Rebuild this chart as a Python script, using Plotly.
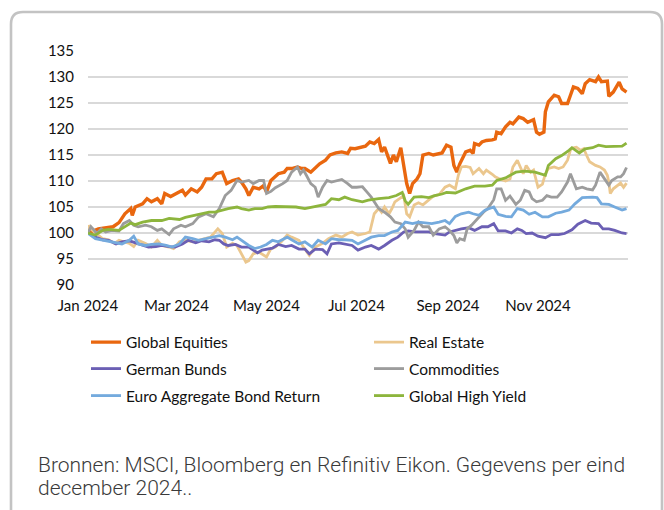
import pandas as pd
import plotly.graph_objects as go

# ---------------- data (day-of-year offsets from 2024-01-01, index level) ----------------
series_names = ["Global Equities", "Real Estate", "German Bunds",
                "Commodities", "Euro Aggregate Bond Return", "Global High Yield"]

eq_day = [0, 7, 17, 21, 25, 29, 30, 32, 37, 40, 43, 47, 50, 52, 56, 60, 64, 66, 70, 74, 77, 80, 84, 87, 91,
          94, 98, 102, 104, 107, 109, 112, 116, 119, 121, 124, 127, 129, 133, 135, 138, 142, 145, 147, 151,
          154, 157, 161, 164, 168, 172, 176, 178, 181, 185, 188, 191, 194, 197, 199, 201, 205, 207, 209, 212,
          214, 216, 218, 220, 223, 225, 227, 231, 234, 238, 240, 243, 246, 248, 250, 252, 256, 259, 261, 262,
          265, 267, 270, 274, 276, 277, 280, 283, 286, 288, 292, 295, 298, 302, 304, 306, 309, 310, 312, 316,
          319, 321, 325, 327, 329, 332, 335, 337, 340, 344, 346, 348, 352, 353, 356, 360, 362, 365]
eq_val = [100, 100.8, 101.2, 102, 103.7, 104.7, 103.4, 105, 105.6, 106.6, 106.0, 106.6, 105.6, 107.6, 107.0,
          107.6, 108.2, 107.3, 108.5, 107.9, 108.8, 110.4, 110.4, 111.4, 111.7, 109.5, 110.1, 110.4, 109.8,
          108.5, 107.2, 108.8, 108.5, 109.1, 107.9, 110.1, 110.8, 111.4, 111.7, 112.4, 112.4, 112.7, 112.4,
          112.4, 111.7, 112.4, 113.3, 114, 115, 115.4, 115.6, 115.3, 116.3, 116.2, 116.5, 116.7, 117.5, 117.2,
          118, 115.6, 116.5, 113.4, 115, 113.7, 116.4, 113.3, 109.5, 107.6, 109.5, 110.4, 111.4, 115, 115.3,
          115, 115.3, 115.4, 116.9, 116.5, 113, 111.7, 113.3, 115.6, 115.9, 115.3, 117.2, 116.9, 117.5, 117.8,
          117.9, 118.1, 119.4, 119.1, 120.4, 121.3, 121, 122.3, 122, 121.3, 121.8, 119.4, 119, 119.4, 123.3,
          125.2, 126.5, 126.2, 124.9, 124.9, 126.5, 128.1, 127.8, 126.8, 128.7, 129.5, 129.1, 130, 129.1,
          129.2, 126.3, 127.1, 129, 127.7, 127.1]

re_day = [0, 1, 3, 6, 10, 14, 18, 21, 24, 28, 31, 34, 39, 43, 47, 50, 55, 58, 62, 66, 71, 75, 78, 83, 88,
          91, 94, 98, 101, 104, 107, 109, 112, 116, 118, 121, 124, 127, 131, 135, 138, 143, 146, 150, 154,
          159, 163, 168, 172, 176, 179, 183, 188, 191, 194, 197, 199, 201, 204, 206, 208, 212, 214, 216, 218,
          221, 224, 227, 231, 234, 238, 242, 245, 249, 251, 253, 256, 259, 261, 265, 268, 270, 274, 276, 279,
          283, 286, 288, 291, 293, 295, 297, 300, 302, 304, 305, 308, 310, 312, 316, 319, 322, 325, 327, 329,
          331, 334, 336, 338, 340, 344, 347, 350, 352, 353, 354, 356, 359, 361, 363, 365]
re_val = [100, 101.5, 100.5, 99.8, 98.9, 98.7, 98, 98.6, 98.3, 98, 97.4, 98.6, 98, 97.3, 98.6, 97.6, 97.3,
          97, 98.3, 98.6, 98.3, 98.6, 98.9, 99.2, 100.8, 99.9, 97.3, 98, 97.6, 96, 94.4, 94.7, 96, 96.3, 96,
          95.4, 97, 97.3, 98.3, 99.6, 99.2, 98.6, 97.3, 95.7, 97.3, 98, 98.9, 99.6, 99.2, 99.9, 100.2, 99.6,
          99.9, 100.2, 103.7, 104.7, 104, 105, 103.7, 104.7, 106, 106.9, 107.2, 103.7, 103.1, 105.4, 105.8,
          105.4, 106.4, 107.1, 107.4, 108.8, 109.2, 108.5, 111.1, 112.7, 112.8, 112.6, 111.4, 112.4, 111.4,
          112.1, 111.3, 110.8, 110.4, 110, 110.4, 112.7, 114, 112.7, 111.4, 113, 111.7, 112.1, 109.8, 108.8,
          109.4, 111.4, 112.4, 112.7, 112.4, 112.7, 114, 116, 116.4, 116.5, 115.9, 116.2, 114.9, 113.7, 113,
          112.7, 112.1, 111.1, 109.8, 107.6, 108.5, 109.2, 109.6, 108.8, 109.6]

bund_day = [0, 5, 10, 14, 19, 23, 28, 32, 37, 41, 46, 50, 55, 59, 64, 68, 73, 77, 82, 86, 89, 92, 95, 100,
            104, 109, 112, 115, 118, 122, 125, 129, 134, 138, 143, 147, 150, 154, 159, 162, 165, 170, 174,
            179, 183, 188, 192, 197, 201, 206, 210, 214, 217, 222, 226, 231, 235, 240, 242, 245, 249, 253,
            258, 262, 267, 271, 275, 278, 283, 287, 291, 294, 297, 301, 305, 310, 314, 319, 323, 328, 332,
            337, 341, 346, 349, 353, 357, 362, 365]
bund_val = [100, 99.2, 98.7, 98.6, 97.9, 98.3, 98.5, 98.1, 97.6, 97.3, 97.4, 97.6, 97.4, 97.3, 97.9, 98.6,
            98.1, 98.5, 98.3, 98.7, 98.6, 97.9, 97.6, 97.8, 97.3, 97.3, 96.7, 96.2, 96.7, 97, 97.1, 97.8,
            97.4, 97.6, 96.9, 96.9, 96, 96.9, 96.8, 96, 97.9, 98.1, 97.9, 97.6, 96.7, 97.3, 97.6, 96.9, 97.6,
            98.6, 99.2, 100.2, 100.4, 100.2, 100.2, 100.2, 99.9, 99.7, 99.6, 100.2, 100.5, 100.8, 101, 100.5,
            101.2, 101.2, 101.8, 100.4, 100.4, 100, 100.8, 100.5, 99.9, 100, 99.4, 99.1, 99.7, 99.7, 99.9,
            100.6, 101.7, 102.4, 101.9, 101.8, 100.8, 100.8, 100.5, 100, 99.9]

com_day = [0, 2, 4, 6, 9, 12, 16, 21, 24, 28, 31, 34, 39, 43, 47, 50, 55, 58, 63, 66, 71, 75, 80, 85, 89,
           93, 97, 101, 104, 109, 112, 116, 119, 121, 124, 127, 132, 135, 138, 142, 144, 146, 148, 151, 154,
           156, 159, 162, 165, 169, 172, 176, 179, 182, 186, 189, 192, 197, 201, 205, 208, 212, 215, 217, 221,
           224, 227, 231, 234, 238, 242, 245, 248, 250, 252, 255, 257, 260, 265, 268, 271, 275, 277, 280, 283,
           286, 290, 293, 296, 299, 301, 304, 308, 311, 314, 318, 321, 325, 327, 329, 331, 335, 338, 342, 344,
           347, 350, 353, 355, 359, 361, 363, 365]
com_val = [100, 101.2, 100.6, 99.9, 100.8, 100.2, 100.5, 100.4, 101.8, 102.4, 101.5, 101.2, 101.5, 101.2,
           100.5, 100.8, 99.7, 100.8, 101.5, 101.2, 101.8, 103.1, 103.7, 103.1, 104.7, 107.2, 108.2, 110.1,
           109.8, 110.1, 109.5, 110.1, 110.1, 107.6, 108.0, 108.7, 109.5, 110.1, 111.7, 112.7, 111.4, 112.1,
           111.1, 109.5, 108.8, 106.9, 108.8, 110.1, 109.8, 110.1, 110.3, 109.5, 108.8, 108.8, 108.9, 107.9,
           106.9, 104.7, 104, 103.1, 102.1, 101.8, 100.8, 99.2, 100.5, 102.1, 101.2, 101.2, 99.6, 100.8,
           101.2, 100.5, 99.5, 98.1, 98.9, 98.6, 100.8, 101.5, 103.1, 104, 104.7, 106.4, 108.5, 108.5, 106.3,
           107.1, 105.5, 106.3, 108.2, 107.9, 106.6, 106, 106.3, 107.2, 106.9, 106.9, 107.9, 109.8, 111.4,
           110.1, 108.5, 108.8, 108.5, 108.3, 109.2, 111.7, 110.4, 109.2, 110.1, 110.8, 110.8, 111.4, 112.6]

agg_day = [0, 1, 5, 10, 14, 19, 23, 28, 31, 34, 39, 43, 48, 53, 57, 62, 66, 71, 75, 80, 84, 89, 93, 98,
           101, 104, 109, 113, 117, 121, 125, 129, 135, 138, 143, 147, 152, 156, 161, 165, 170, 174, 179,
           183, 188, 192, 197, 201, 206, 210, 215, 220, 224, 229, 233, 238, 242, 245, 249, 253, 258, 261,
           265, 269, 275, 278, 283, 287, 291, 295, 299, 303, 308, 312, 317, 321, 326, 330, 335, 342, 345,
           348, 353, 357, 362, 365]
agg_val = [100, 99.7, 98.9, 98.6, 98.5, 98.1, 97.9, 98.6, 99.4, 97.9, 97.6, 97.8, 97.9, 97.6, 97.3, 97.9,
           99.2, 98.9, 98.6, 98.9, 99.2, 99.5, 99.2, 98.7, 99.2, 98.6, 97.6, 97, 97.3, 97.8, 98.6, 98.3, 99.2,
           98.7, 97.9, 98.3, 97.3, 98.6, 97.9, 98.9, 98.7, 98.7, 98.6, 97.9, 98.7, 99.2, 99.5, 99.5, 100.2,
           100.5, 102.1, 101.8, 102.1, 101.9, 101.8, 102.1, 102.4, 101.8, 103.2, 103.7, 104, 103.7, 103.4,
           104.4, 105, 103.6, 103.2, 103.1, 104.7, 104.4, 103.6, 104, 103.1, 103.1, 103.8, 104, 104.4, 105.6,
           106.8, 106.9, 106.8, 105.6, 105.5, 105, 104.4, 104.7]

hy_day = [0, 5, 10, 14, 21, 25, 29, 32, 37, 43, 50, 55, 62, 66, 73, 77, 82, 86, 91, 95, 101, 104, 109, 113,
          118, 122, 127, 134, 141, 147, 154, 161, 165, 170, 174, 179, 186, 190, 197, 204, 209, 213, 215, 217,
          221, 226, 231, 235, 240, 243, 249, 256, 262, 269, 274, 277, 283, 290, 296, 303, 310, 312, 317, 321,
          326, 328, 333, 337, 342, 346, 351, 357, 362, 365]
hy_val = [100, 99.6, 100.5, 100.7, 100.5, 101.2, 101.9, 101.6, 102.1, 102.4, 102.4, 102.8, 102.6, 103, 103.4,
          103.7, 104, 104, 104.4, 104.7, 105, 104.7, 104.4, 104.7, 104.7, 105, 105.1, 105, 105, 104.7, 105.1,
          105.5, 106.6, 106.4, 106.9, 106.4, 106, 106.3, 106.6, 106.8, 107.2, 107.8, 106.2, 105.5, 106.9,
          107.0, 106.8, 107.2, 107.5, 107.8, 107.7, 108.5, 109, 109, 109.2, 110.1, 110.6, 111.7, 111.9, 111.7,
          111.1, 113, 114.3, 114.9, 115.9, 116.4, 115.4, 116.2, 116.4, 116.9, 116.6, 116.7, 116.7, 117.3]

tick_dates = ["2024-01-01", "2024-03-01", "2024-05-01", "2024-07-01", "2024-09-01", "2024-11-01"]
tick_labels = ["Jan 2024", "Mar 2024", "May 2024", "Jul 2024", "Sep 2024", "Nov 2024"]
y_ticks = [90, 95, 100, 105, 110, 115, 120, 125, 130, 135]

source_lines = ["Bronnen: MSCI, Bloomberg en Refinitiv Eikon. Gegevens per eind",
                "december 2024.."]

# ---------------- styling ----------------
colors = ["#E9670F", "#EBC78E", "#6B5FB4", "#9C9C9C", "#74AADD", "#8DB53D"]
widths = [3.4, 2.8, 2.8, 2.8, 2.8, 2.8]

W, H = 664, 510
ML, MR, MT, MB = 88, 36, 51, 225
PW, PH = W - ML - MR, H - MT - MB


def px_x(x):
    return (x - ML) / PW


def px_y(y):
    return (H - MB - y) / PH


origin = pd.Timestamp("2024-01-01")


def to_dates(days):
    return [origin + pd.Timedelta(days=d) for d in days]


all_days = [eq_day, re_day, bund_day, com_day, agg_day, hy_day]
all_vals = [eq_val, re_val, bund_val, com_val, agg_val, hy_val]

# legend grid: 2 columns x 3 rows, one legend box per entry
leg_cols_px = [86, 369]
leg_rows_px = [342.5, 369, 396]
legend_keys = ["legend", "legend2", "legend3", "legend4", "legend5", "legend6"]

fig = go.Figure()
for i, (name, d, v, c, w) in enumerate(zip(series_names, all_days, all_vals, colors, widths)):
    assert len(d) == len(v), name
    fig.add_trace(go.Scatter(x=to_dates(d), y=v, mode="lines", name=name,
                             line=dict(color=c, width=w), legend=legend_keys[i]))

font_main = "Lato, 'Open Sans', sans-serif"

legend_layout = {}
for i, key in enumerate(legend_keys):
    legend_layout[key] = dict(orientation="h", xanchor="left", yanchor="middle",
                              x=px_x(leg_cols_px[i % 2]), y=px_y(leg_rows_px[i // 2]),
                              bgcolor="rgba(0,0,0,0)", borderwidth=0,
                              font=dict(family=font_main, size=15.5, color="#111111"),
                              itemclick=False, itemdoubleclick=False)

fig.update_layout(
    width=W, height=H,
    margin=dict(l=ML, r=MR, t=MT, b=MB, pad=0),
    paper_bgcolor="white", plot_bgcolor="white",
    font=dict(family=font_main, size=15, color="#111111"),
    showlegend=True,
    xaxis=dict(range=["2024-01-01", "2025-01-01"], tickvals=tick_dates, ticktext=tick_labels,
               showgrid=False, zeroline=False, showline=False, ticks="outside", ticklen=7,
               tickcolor="rgba(0,0,0,0)", tickfont=dict(family=font_main, size=15, color="#111111")),
    yaxis=dict(range=[90, 135], tickvals=y_ticks, showgrid=True, gridcolor="#D9D9D9", gridwidth=1.6,
               zeroline=False, showline=False, ticks="outside", ticklen=10,
               tickcolor="rgba(0,0,0,0)", tickfont=dict(family=font_main, size=15, color="#111111")),
    annotations=[dict(text=t, xref="paper", yref="paper", x=px_x(36), y=px_y(yy),
                      xanchor="left", yanchor="middle", align="left", showarrow=False,
                      font=dict(family="Roboto", size=21, color="#3A3A3A", weight=300))
                 for t, yy in zip(source_lines, [465, 488])],
    **legend_layout,
)

# rounded frame around the chart (extends past right/bottom of view)
L, T, R, B, r = 11, 12, 662, 560, 12
path = (f"M {px_x(L)},{px_y(B)} L {px_x(L)},{px_y(T + r)} "
        f"Q {px_x(L)},{px_y(T)} {px_x(L + r)},{px_y(T)} "
        f"L {px_x(R - r)},{px_y(T)} Q {px_x(R)},{px_y(T)} {px_x(R)},{px_y(T + r)} "
        f"L {px_x(R)},{px_y(B)}")
fig.add_shape(type="path", path=path, xref="paper", yref="paper",
              line=dict(color="#C3C3C3", width=2.6), layer="below")

fig.write_html("out.html", config={"displayModeBar": False},
               post_script="document.body.style.margin='0';")
